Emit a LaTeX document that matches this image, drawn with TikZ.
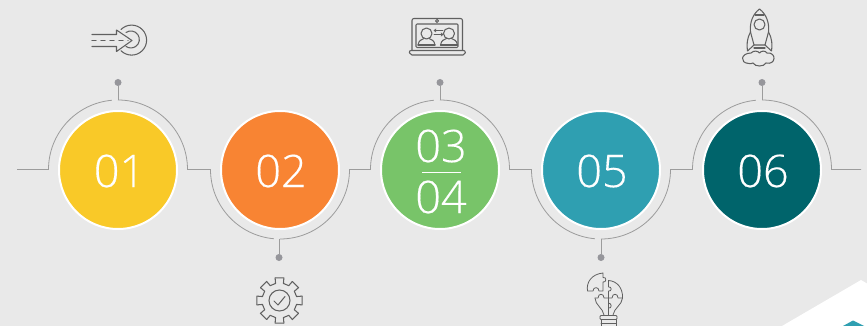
\documentclass[tikz,border=0pt]{standalone}
\usepackage{fontspec}
\setmainfont{Open Sans}[UprightFont=* Light,FakeBold=0.25]
\usepackage{xcolor}
\usetikzlibrary{calc}
\definecolor{pagegray}{HTML}{E9E9E9}
\definecolor{trackgray}{HTML}{9C9C9C}
\definecolor{dotgray}{HTML}{96969B}
\definecolor{icongray}{HTML}{606060}
\definecolor{stepyellow}{HTML}{F9C928}
\definecolor{steporange}{HTML}{F88433}
\definecolor{stepgreen}{HTML}{78C469}
\definecolor{stepteal}{HTML}{2F9FB1}
\definecolor{stepdark}{HTML}{00646B}

\begin{document}
\begin{tikzpicture}[x=1pt,y=-1pt,
 disc/.style={circle,draw=white,line width=2pt,minimum size=118pt,inner sep=0pt},
 numtext/.style={text=white,font=\fontsize{45}{45}\selectfont,inner sep=0pt},
 bead/.style={circle,fill=dotgray,minimum size=7pt,inner sep=0pt},
 track/.style={draw=trackgray,line width=0.8pt},
 icon/.style={draw=icongray,line width=1.05pt,line join=round,line cap=round}]
\useasboundingbox (0,0) rectangle (867,326);
\fill[pagegray] (0,0) rectangle (867,326);
\fill[white] (782,326) -- (861,280) -- (867,283.5) -- (867,326) -- cycle;
\fill[stepteal] (843,326) -- (853,320.5) -- (864,326) -- cycle;

% discs
\node[disc,fill=stepyellow] (c01) at (118,170) {};
\node[disc,fill=steporange] (c02) at (280,170) {};
\node[disc,fill=stepgreen] (c34) at (440,170) {};
\node[disc,fill=stepteal] (c05) at (601,170) {};
\node[disc,fill=stepdark] (c06) at (762,170) {};
\node[numtext] (n01) at (119.5,171) {01};
\node[numtext] (n02) at (281,171) {02};
\node[numtext] (n03) at (441,146) {03};
\node[numtext] (n04) at (441,197) {04};
\node[numtext] (n05) at (602,171) {05};
\node[numtext] (n06) at (763,171) {06};
\draw[white,line width=0.8pt] ($(c34)+(-18,2.5)$) -- ($(c34)+(21,2.5)$);

% track
\coordinate (start) at (17,169.5);
\coordinate (stop) at (861,169.5);
\draw[track] (start) -- ($(c01)+(-69.5,-0.5)$) arc[start angle=180,end angle=265,radius=69.5];
\draw[track] ($(c01)+(0,-70)$) arc[start angle=270,end angle=360,radius=69.5]
 -- ($(c02)+(-69.5,-0.5)$) arc[start angle=180,end angle=95,radius=69.5];
\draw[track] ($(c02)+(0,69)$) arc[start angle=90,end angle=0,radius=69.5]
 -- ($(c34)+(-69.5,-0.5)$) arc[start angle=180,end angle=265,radius=69.5];
\draw[track] ($(c34)+(0,-70)$) arc[start angle=270,end angle=360,radius=69.5]
 -- ($(c05)+(-69.5,-0.5)$) arc[start angle=180,end angle=95,radius=69.5];
\draw[track] ($(c05)+(0,69)$) arc[start angle=90,end angle=0,radius=69.5]
 -- ($(c06)+(-69.5,-0.5)$) arc[start angle=180,end angle=265,radius=69.5];
\draw[track] ($(c06)+(0,-70)$) arc[start angle=270,end angle=360,radius=69.5] -- (stop);

% beads
\node[bead] (d01) at (118,82.5) {};
\node[bead] (d02) at (279,257.5) {};
\node[bead] (d34) at (440,82.5) {};
\node[bead] (d05) at (601,257.5) {};
\node[bead] (d06) at (762,82.5) {};
\draw[track] (d01) -- ($(c01)+(0,-70)$);
\draw[track] (d02) -- ($(c02)+(-1,69)$);
\draw[track] (d34) -- ($(c34)+(0,-70)$);
\draw[track] (d05) -- ($(c05)+(0,69)$);
\draw[track] (d06) -- ($(c06)+(0,-70)$);

% target icon
\draw[icon] (92,34.5) -- (116.5,34.5) -- (116.5,30) -- (132,40.5) -- (116.5,51.5) -- (116.5,46.5) -- (92,46.5);
\draw[icon,dashed,dash pattern=on 4pt off 5pt] (92,40.5) -- (128,40.5);
\draw[icon] (121,29.5) arc[start angle=225,end angle=495,radius=15];
\draw[icon] (126,32.5) arc[start angle=235,end angle=485,radius=8.5];

% gear icon
\foreach \a in {0,45,...,315}
 \draw[icon] ($(279.5,300.5)+(\a-11:23)$) -- ($(279.5,300.5)+(\a+11:23)$) -- ($(279.5,300.5)+(\a+13:17.5)$) -- ($(279.5,300.5)+(\a+32:17.5)$) -- ($(279.5,300.5)+(\a+34:23)$);
\draw[icon] (279.5,300.5) circle[radius=10.5];
\draw[icon] (274,301) -- (278,305) -- (285,296.5);

% laptop icon
\draw[icon,rounded corners=2pt] (412,50) -- (412,18.5) -- (462.5,18.5) -- (462.5,50);
\draw[icon,rounded corners=1pt] (416,24) rectangle (458,47.5);
\draw[icon,rounded corners=2pt] (409,50.5) -- (465.5,50.5) -- (465,55) -- (410,55) -- cycle;
\draw[icon] (437,21) circle[radius=1.5];
\draw[icon] (426.5,33.5) circle[radius=5.5];
\draw[icon] (418,45) .. controls (419,40) and (421,40) .. (424,38.5);
\draw[icon] (435,45) .. controls (434,40) and (432,40) .. (429,38.5);
\draw[icon] (418,45) -- (435,45);
\draw[icon] (449,33.5) circle[radius=5.5];
\draw[icon] (440.5,45) .. controls (441.5,40) and (443.5,40) .. (446.5,38.5);
\draw[icon] (457.5,45) .. controls (456.5,40) and (454.5,40) .. (451.5,38.5);
\draw[icon] (440.5,45) -- (457.5,45);
\draw[icon,line width=0.7pt] (434,30.5) -- (443,30.5) (434,30.5) -- (436,29) (434,30.5) -- (436,32);
\draw[icon,line width=0.7pt] (434,34.5) -- (443,34.5) (443,34.5) -- (441,33) (443,34.5) -- (441,36);

% bulb icon
\draw[icon,line width=0.8pt] (587.5,291) .. controls (586,282) and (592,274) .. (603,273) -- (603,277.5)
 .. controls (607,276.5) and (606.5,283) .. (603,282) -- (603,291) -- (599,291)
 .. controls (599,286.5) and (593,286.5) .. (593,291) -- cycle;
\draw[icon,line width=0.8pt] (608.5,280.5) .. controls (617,281) and (623,288) .. (622.5,298) -- (618,298)
 .. controls (618,293) and (612,293) .. (612,298) -- (608.5,298) -- (608.5,291)
 .. controls (612,292) and (612,286) .. (608.5,287) -- cycle;
\draw[icon,line width=0.8pt] (622.5,298) .. controls (622,305) and (614,308) .. (613,315);
\draw[icon,line width=0.8pt] (595,298) .. controls (595,305) and (603,308) .. (604,315);
\draw[icon,line width=0.8pt] (595,298) -- (598,298) .. controls (598,293) and (604,293) .. (604,298) -- (608.5,298) -- (608.5,315);
\draw[icon,line width=0.8pt] (608.5,303) .. controls (612,303) and (612,309) .. (608.5,308);
\draw[icon,line width=0.8pt,rounded corners=1pt] (600,315.5) rectangle (617,319.5);
\draw[icon,line width=0.8pt] (601,319.5) -- (601,326) (616,319.5) -- (616,326) (601,323.5) -- (616,323.5);

% rocket icon
\draw[icon] (759.5,9) .. controls (753,14) and (749.5,22) .. (750.5,32) -- (754,45) -- (765,45) -- (768.5,32) .. controls (769.5,22) and (766,14) .. (759.5,9);
\draw[icon] (755,15) -- (764,15);
\draw[icon] (759.5,24.5) circle[radius=5.5];
\draw[icon] (750.5,32) .. controls (747,38) and (746.5,45) .. (747.5,51) -- (754,45);
\draw[icon] (768.5,32) .. controls (772,38) and (772.5,45) .. (771.5,51) -- (765,45);
\draw[icon] (754,48) -- (765,48);
\draw[icon] (751,53) .. controls (741,53) and (739,63) .. (749,63.5) .. controls (750,64) and (752,63.5) .. (753,63)
 .. controls (755,67) and (764,67) .. (766,63) .. controls (776,65.5) and (777,52) .. (767,53)
 .. controls (765,50) and (761,51) .. (759.5,53) .. controls (758,51) and (754,50) .. (751,53);
\end{tikzpicture}
\end{document}
